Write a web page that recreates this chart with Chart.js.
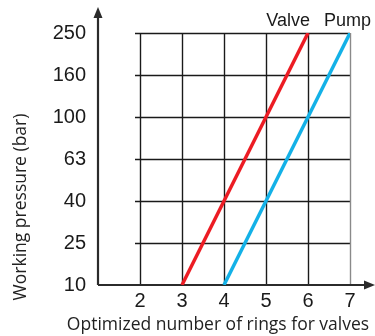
<!DOCTYPE html>
<html>
<head>
<meta charset="utf-8">
<script src="https://cdn.jsdelivr.net/npm/chart.js@4"></script>
<style>
  html, body { margin: 0; padding: 0; background: #fff; }
  #wrap { width: 375px; height: 336px; }
</style>
</head>
<body>
<div id="wrap"><canvas id="ringChart" width="375" height="336"></canvas></div>
<script>
// working pressure levels (bar), evenly spaced on the y axis
var pressureLevels = ['10', '25', '40', '63', '100', '160', '250'];
// rings needed at each pressure level
var valveRings = [3, 3.5, 4, 4.5, 5, 5.5, 6];
var pumpRings = [4, 4.5, 5, 5.5, 6, 6.5, 7];
var xTicks = [2, 3, 4, 5, 6, 7];
var xTitle = 'Optimized number of rings for valves';
var yTitle = 'Working pressure (bar)';

function toPoints(rings) {
    return rings.map(function (r, i) { return { x: r, y: i }; });
}

// grid, arrowed axes, axis titles and the line labels
var decorPlugin = {
    id: 'decor',
    beforeDatasetsDraw: function (chart) {
        var ctx = chart.ctx, xs = chart.scales.x, ys = chart.scales.y;
        var left = xs.getPixelForValue(1), right = xs.getPixelForValue(7);
        var top = ys.getPixelForValue(pressureLevels.length - 1), bottom = ys.getPixelForValue(0);
        ctx.save();
        ctx.lineWidth = 1.4;
        ctx.strokeStyle = '#1a1a1a';
        var gx0 = xs.getPixelForValue(2) - 5;
        for (var i = 1; i < pressureLevels.length; i++) {
            var py = Math.round(ys.getPixelForValue(i)) + 0.5;
            ctx.beginPath(); ctx.moveTo(gx0, py); ctx.lineTo(right, py); ctx.stroke();
        }
        xTicks.forEach(function (v) {
            var px = Math.round(xs.getPixelForValue(v)) + 0.5;
            ctx.strokeStyle = v === 7 ? '#8a8a8a' : '#1a1a1a';
            ctx.beginPath(); ctx.moveTo(px, top); ctx.lineTo(px, bottom); ctx.stroke();
        });
        // axes
        ctx.strokeStyle = '#2b2b2b';
        ctx.fillStyle = '#2b2b2b';
        ctx.lineWidth = 2.2;
        ctx.beginPath(); ctx.moveTo(left, bottom); ctx.lineTo(left, 16); ctx.stroke();
        ctx.beginPath(); ctx.moveTo(left, bottom); ctx.lineTo(chart.width - 8, bottom); ctx.stroke();
        ctx.beginPath();
        ctx.moveTo(left, 7); ctx.lineTo(left - 4.5, 18); ctx.lineTo(left + 4.5, 18); ctx.closePath(); ctx.fill();
        ctx.beginPath();
        ctx.moveTo(chart.width, bottom); ctx.lineTo(chart.width - 11, bottom - 4.5); ctx.lineTo(chart.width - 11, bottom + 4.5); ctx.closePath(); ctx.fill();

        // axis titles (wider than the plot, so drawn here rather than squeezed by the scale)
        ctx.fillStyle = '#222';
        ctx.font = '17.5px "Open Sans"';
        ctx.textAlign = 'center';
        ctx.textBaseline = 'alphabetic';
        ctx.fillText(xTitle, 218, 330);
        ctx.translate(26, 207);
        ctx.rotate(-Math.PI / 2);
        ctx.fillText(yTitle, 0, 0);
        ctx.restore();
    },
    afterDatasetsDraw: function (chart) {
        var ctx = chart.ctx, xs = chart.scales.x;
        ctx.save();
        ctx.font = '18px "Liberation Sans"';
        ctx.fillStyle = '#1a1a1a';
        ctx.textBaseline = 'alphabetic';
        ctx.textAlign = 'right';
        ctx.fillText('Valve', xs.getPixelForValue(valveRings[valveRings.length - 1]) + 2, 26);
        ctx.textAlign = 'left';
        ctx.fillText('Pump', xs.getPixelForValue(pumpRings[pumpRings.length - 1]) - 26, 26);
        ctx.restore();
    }
};

var ringChart = new Chart(document.getElementById('ringChart'), {
    type: 'line',
    data: {
        datasets: [{
            label: 'Valve',
            data: toPoints(valveRings),
            borderColor: '#ec1c24',
            borderWidth: 3.5,
            pointRadius: 0,
            fill: false
        }, {
            label: 'Pump',
            data: toPoints(pumpRings),
            borderColor: '#14b1e7',
            borderWidth: 3.5,
            pointRadius: 0,
            fill: false
        }]
    },
    options: {
        responsive: false,
        animation: false,
        layout: { padding: { top: 33, right: 25, left: 0, bottom: 0 } },
        plugins: { legend: { display: false }, tooltip: { enabled: false } },
        scales: {
            x: {
                type: 'linear',
                min: 1,
                max: 7,
                border: { display: false },
                grid: { display: false, drawTicks: false },
                afterFit: function (axis) { axis.height = 51; },
                afterBuildTicks: function (axis) {
                    axis.ticks = xTicks.map(function (v) { return { value: v }; });
                },
                ticks: {
                    color: '#1a1a1a',
                    font: { family: 'Liberation Sans', size: 20 },
                    padding: 4
                }
            },
            y: {
                type: 'linear',
                min: 0,
                max: pressureLevels.length - 1,
                border: { display: false },
                grid: { display: false, drawTicks: false },
                afterFit: function (axis) { axis.width = 98; },
                afterBuildTicks: function (axis) {
                    axis.ticks = pressureLevels.map(function (p, i) { return { value: i }; });
                },
                ticks: {
                    color: '#1a1a1a',
                    font: { family: 'Liberation Sans', size: 20 },
                    padding: 12,
                    callback: function (v) { return pressureLevels[v]; }
                }
            }
        }
    },
    plugins: [decorPlugin]
});
</script>
</body>
</html>
